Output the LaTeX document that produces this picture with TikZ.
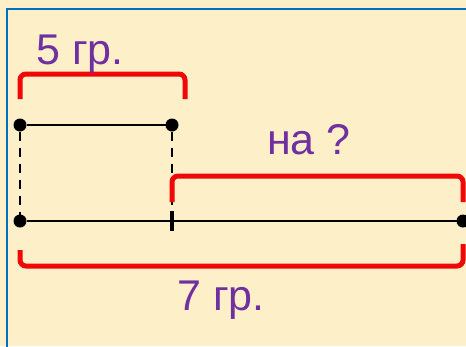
\documentclass[tikz,border=0pt]{standalone}
\usepackage{fontspec}
\setmainfont{Liberation Sans}
\definecolor{cream}{HTML}{FDF0C8}
\definecolor{frameblue}{HTML}{0070C0}
\definecolor{bracered}{HTML}{F00808}
\definecolor{labelpurple}{HTML}{7030A0}
\begin{document}
\begin{tikzpicture}[x=1pt,y=-1pt,
  dot/.style={circle,fill,inner sep=0,outer sep=0,minimum size=13pt},
  seg/.style={line width=2.5pt},
  guide/.style={line width=1.5pt,dash pattern=on 9pt off 7pt},
  brace/.style={bracered,line width=5pt,rounded corners=6pt},
  lbl/.style={text=labelpurple,font=\fontsize{43}{50}\selectfont,inner sep=0,anchor=base}]
\useasboundingbox (0,0) rectangle (466,346);
\fill[cream] (0,0) rectangle (466,346);
\draw[frameblue,line width=2pt] (7,360) -- (7,9) -- (480,9);

\draw (20,125) node[dot] (A) {};
\draw (172,125) node[dot] (B) {};
\draw (20,221) node[dot] (C) {};
\draw (463,221) node[dot] (D) {};
\draw (172,221) node[inner sep=0,outer sep=0] (E) {};
%\draw (E) node[circle,fill,inner sep=1pt] {};
\draw[guide] (A) -- (C);
\draw[guide] (B) -- (E);
\draw[seg] (A) -- (B);
\draw[seg] (C) -- (D);
\draw[line width=4.5pt] ([yshift=-10pt]E.center) -- ([yshift=10pt]E.center);

\draw[brace] (20,99) -- (20,74) -- (185,74) -- (185,99);
\draw[brace] (172,202) -- (172,176) -- (463,176) -- (463,202);
\draw[brace] (20,250) -- (20,266) -- (463,266) -- (463,244);

\draw (80,64) node[lbl] (top) {5 гр.};
\draw (309,154) node[lbl] (diff) {на ?};
\draw (221,310) node[lbl] (total) {7 гр.};

\end{tikzpicture}
\end{document}
